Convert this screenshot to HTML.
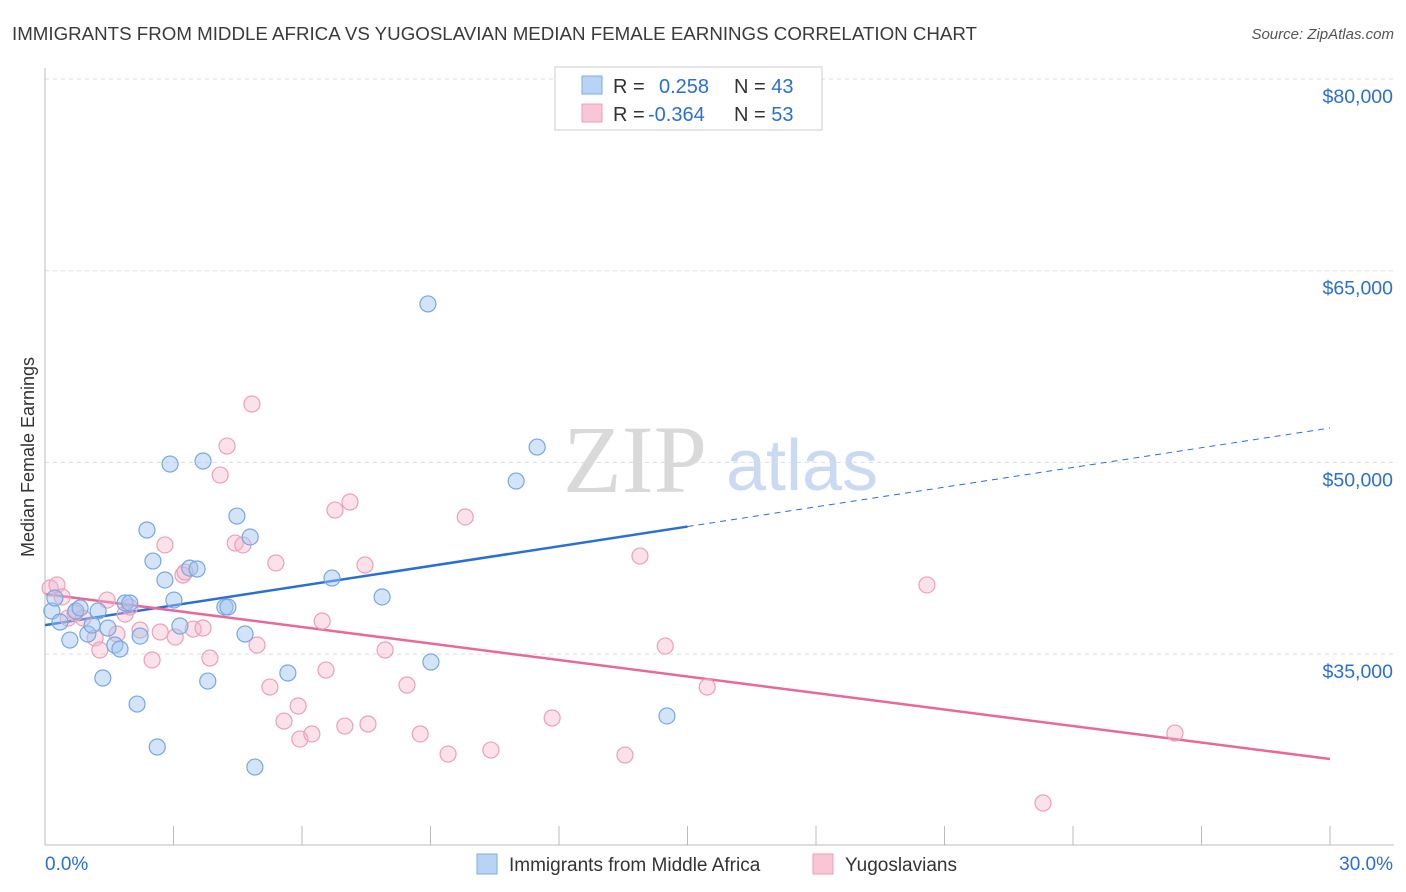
<!DOCTYPE html>
<html><head><meta charset="utf-8">
<style>
body{margin:0;background:#fff;font-family:"Liberation Sans",sans-serif;}
#wrap{position:relative;width:1406px;height:892px;overflow:hidden;}
</style></head>
<body>
<div id="wrap">
<svg id="svg" width="1406" height="892" xmlns="http://www.w3.org/2000/svg">
<text x="12" y="40" font-size="18" fill="#3a3a3a" textLength="965" lengthAdjust="spacingAndGlyphs">IMMIGRANTS FROM MIDDLE AFRICA VS YUGOSLAVIAN MEDIAN FEMALE EARNINGS CORRELATION CHART</text>
<text x="1394" y="39" font-size="15" fill="#555" font-style="italic" text-anchor="end">Source: ZipAtlas.com</text>
<text x="34" y="457" font-size="18" fill="#333" text-anchor="middle" transform="rotate(-90 34 457)">Median Female Earnings</text>
<g>
<text x="635" y="492" font-size="96" fill="#d9d9d9" font-family="Liberation Serif,serif" text-anchor="middle">ZIP</text>
<text x="802" y="490" font-size="72" fill="#c9daf2" text-anchor="middle">atlas</text>
</g>
<g id="grid"></g>
<g id="axes"></g>
<g id="lines"></g>
<g id="pts"></g>
<g>
<rect x="555" y="67" width="267" height="63" fill="#fff" stroke="#ccc"/>
<rect x="582" y="76" width="20" height="18" fill="#b9d3f4" stroke="#7aaee6"/>
<rect x="582" y="104" width="20" height="18" fill="#f9c6d5" stroke="#ee9fb8"/>
<text x="613" y="93" font-size="20" fill="#333">R =</text>
<text x="659" y="93" font-size="20" fill="#2a6fd6">0.258</text>
<text x="734" y="93" font-size="20" fill="#333">N = <tspan fill="#2a6fd6">43</tspan></text>
<text x="613" y="121" font-size="20" fill="#333">R =</text>
<text x="648" y="121" font-size="20" fill="#2a6fd6">-0.364</text>
<text x="734" y="121" font-size="20" fill="#333">N = <tspan fill="#2a6fd6">53</tspan></text>
</g>
<g>
<rect x="477" y="854" width="20" height="20" fill="#b9d3f4" stroke="#7aaee6"/>
<text x="509" y="871" font-size="19" fill="#333">Immigrants from Middle Africa</text>
<rect x="813" y="854" width="20" height="20" fill="#f9c6d5" stroke="#ee9fb8"/>
<text x="845" y="871" font-size="19" fill="#333">Yugoslavians</text>
</g>
</svg>
</div>
<script>
const yTicks=[35000,50000,65000,80000];
const yTickLabels=["$35,000","$50,000","$65,000","$80,000"];
const xTicks=[0,3,6,9,12,15,18,21,24,27,30];
const blueX=[0.16,0.23,0.35,0.58,0.72,0.82,1.0,1.1,1.24,1.35,1.47,1.63,1.75,1.87,1.98,2.15,2.22,2.38,2.52,2.62,2.8,2.92,3.01,3.15,3.38,3.55,3.69,3.8,4.2,4.27,4.48,4.67,4.79,4.9,5.67,6.7,7.87,8.94,9.01,11.0,11.49,14.52];
const blueY=[38370,39390,37510,36100,38370,38610,36570,37270,38370,33130,37040,35710,35400,39000,39000,31090,36410,44710,42280,27730,40800,49870,39230,37200,41730,41660,50110,32890,38680,38680,45800,36570,44160,26160,33520,40950,39470,62400,34380,48540,51200,30160];
const pinkX=[0.12,0.28,0.4,0.54,0.7,0.89,1.17,1.28,1.45,1.68,1.87,1.98,2.22,2.5,2.69,2.8,3.04,3.22,3.27,3.46,3.69,3.85,4.09,4.25,4.44,4.62,4.83,4.95,5.25,5.39,5.58,5.91,5.95,6.23,6.47,6.56,6.77,7.0,7.12,7.47,7.54,7.94,8.45,8.76,9.41,9.81,10.41,11.84,13.54,13.89,14.48,15.46,20.59,23.3,26.38];
const pinkY=[40170,40410,39470,37820,38210,37820,36260,35320,39230,36570,38130,38680,36880,34540,36730,43540,36340,41190,41420,36960,37040,34690,49010,51280,43690,43540,54570,35710,32420,42130,29760,30940,28350,28750,37590,33750,46270,29370,46900,41970,29530,35320,32580,28750,27180,45730,27490,30000,27100,42670,35630,32420,40410,23350,28820];
const blueFit=[37270,52690];
const pinkFit=[39700,26790];
const NS="http://www.w3.org/2000/svg";
const X=v=>45+v/30*1285;
const Y=v=>79+(80000-v)/15000*191.7;
function mk(tag,attrs,parent){const e=document.createElementNS(NS,tag);for(const k in attrs)e.setAttribute(k,attrs[k]);document.getElementById(parent).appendChild(e);return e;}
yTicks.forEach((t,i)=>{
 const l=mk('line',{x1:45,x2:1394,y1:Y(t),y2:Y(t),stroke:'#ddd','stroke-dasharray':'4,4'},'grid');
 
 
 const tx=mk('text',{x:1393,y:Y(t)+24,'font-size':19.5,fill:'#2a6fd6','text-anchor':'end'},'axes');
 tx.textContent=yTickLabels[i];
 
 
});
const ax=mk('line',{x1:45,x2:1394,y1:845,y2:845,stroke:'#bbb'},'axes');


const ay=mk('line',{x1:45,x2:45,y1:68,y2:845,stroke:'#bbb'},'axes');


xTicks.forEach(t=>{
 const l=mk('line',{x1:X(t),x2:X(t),y1:826,y2:845,stroke:'#bbb'},'axes');
 
 
});
const xl0=mk('text',{x:45,y:870,'font-size':19,fill:'#2a6fd6'},'axes');xl0.textContent='0.0%';


const xl1=mk('text',{x:1393,y:870,'font-size':19,fill:'#2a6fd6','text-anchor':'end'},'axes');xl1.textContent='30.0%';


function pts(xs,ys,fill,stroke,name){xs.forEach((x,i)=>{
 const c=mk('circle',{cx:X(x),cy:Y(ys[i]),r:8,fill:fill,stroke:stroke,'stroke-width':1.2},'pts');
 
 
});}
pts(pinkX,pinkY,'rgba(246,180,202,0.4)','#eea0b8','point-yugoslavians');
pts(blueX,blueY,'rgba(160,196,240,0.45)','#76a8e2','point-immigrants');
const bAt=x=>blueFit[0]+(blueFit[1]-blueFit[0])*x/30;
const b1=mk('line',{x1:X(0),y1:Y(bAt(0)),x2:X(15),y2:Y(bAt(15)),stroke:'#2a6fd6','stroke-width':2.5},'lines');


const b2=mk('line',{x1:X(15),y1:Y(bAt(15)),x2:X(30),y2:Y(bAt(30)),stroke:'#2a6fd6','stroke-width':1,'stroke-dasharray':'6,5'},'lines');


const p1=mk('line',{x1:X(0),y1:Y(pinkFit[0]),x2:X(30),y2:Y(pinkFit[1]),stroke:'#e8689a','stroke-width':2.5},'lines');


</script>
</body></html>
